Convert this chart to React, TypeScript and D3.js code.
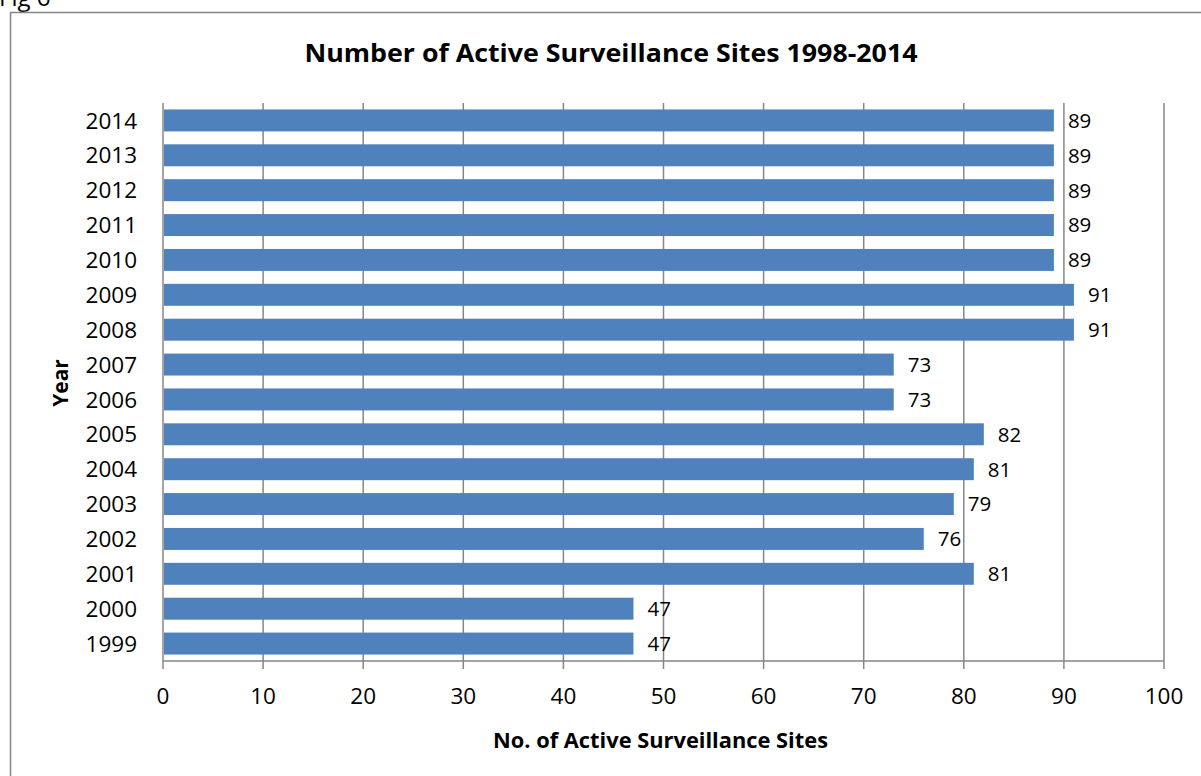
import React from "react";
import * as d3 from "d3";

const years = ["1999","2000","2001","2002","2003","2004","2005","2006","2007","2008","2009","2010","2011","2012","2013","2014"];
const sites = [47,47,81,76,79,81,82,73,73,91,91,89,89,89,89,89];
const xTicks = [0,10,20,30,40,50,60,70,80,90,100];

const W = 1201, H = 776;
const FONT = "'Open Sans', sans-serif";

export default function App() {
  const left = 163, right = 1164, top = 103, bottom = 661;
  const x = d3.scaleLinear().domain([0, 100]).range([left, right]);
  const y = d3.scaleBand<string>().domain([...years].reverse()).range([top, bottom]).paddingInner(0.37).paddingOuter(0.185);
  const grid = "#868686";
  return (
    <svg width={W} height={H} style={{ position: "absolute", left: 0, top: 0 }} fontFamily={FONT}>
      <rect x={0} y={0} width={W} height={H} fill="#fff" />
      <text x={-1} y={6} fontSize={24} fill="#000">Fig 6</text>
      <path d={`M10.5,${H} V12.5 H${W}`} fill="none" stroke={grid} strokeWidth={1.5} />
      <text x={611} y={62} textAnchor="middle" fontSize={25} fontWeight="bold" textLength={613} lengthAdjust="spacingAndGlyphs">Number of Active Surveillance Sites 1998-2014</text>
      {xTicks.map(t => (
        <line key={t} x1={x(t)} x2={x(t)} y1={top} y2={bottom + 8} stroke={grid} strokeWidth={1.5} />
      ))}
      <line x1={left} x2={right} y1={bottom} y2={bottom} stroke={grid} strokeWidth={1.5} />
      {years.map((yr, i) => (
        <g key={yr}>
          <rect x={x(0) + 1} y={y(yr)!} width={x(sites[i]) - x(0) - 1} height={y.bandwidth()} fill="#4F81BD" />
          <text x={x(sites[i]) + 14} y={y(yr)! + y.bandwidth() / 2} dy="0.36em" fontSize={20.5}>{sites[i]}</text>
          <text x={x(0) - 26} y={y(yr)! + y.bandwidth() / 2} dy="0.36em" fontSize={22.5} textAnchor="end">{yr}</text>
        </g>
      ))}
      {xTicks.map(t => (
        <text key={t} x={x(t)} y={704} textAnchor="middle" fontSize={22.5}>{t}</text>
      ))}
      <text x={660.5} y={748} textAnchor="middle" fontSize={21} fontWeight="bold" textLength={335} lengthAdjust="spacingAndGlyphs">No. of Active Surveillance Sites</text>
      <text transform={`translate(68,383) rotate(-90)`} textAnchor="middle" fontSize={21} fontWeight="bold">Year</text>
    </svg>
  );
}
